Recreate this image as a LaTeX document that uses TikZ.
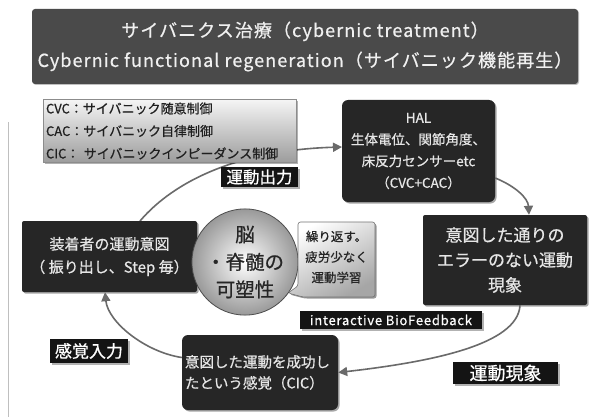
\documentclass[tikz,border=0pt]{standalone}
\usepackage{fontspec}
\setmainfont{Noto Sans CJK JP}[FakeBold=0.6]
\newfontfamily\widefont{Noto Sans CJK JP}[LetterSpace=6,FakeBold=0.6]
\usetikzlibrary{arrows.meta,shadows}
\definecolor{titlegray}{HTML}{4A4A4A}
\definecolor{boxdark}{HTML}{262626}
\definecolor{boxtext}{HTML}{E6E6E6}
\definecolor{arrowgray}{HTML}{6A6A6A}
\definecolor{legendbot}{HTML}{9C9C9C}
\begin{document}
\begin{tikzpicture}[x=1pt,y=-1pt,
  darkbox/.style={fill=boxdark, text=boxtext, inner sep=0pt, align=center,
    drop shadow={shadow xshift=1.5pt, shadow yshift=-1.5pt, opacity=.35, fill=black}},
  tagbox/.style={fill=black!92, text=white, inner sep=0pt,
    drop shadow={shadow xshift=1.5pt, shadow yshift=-1.5pt, opacity=.3, fill=black}},
  flow/.style={draw=arrowgray, line width=1.6pt, -{Triangle[length=9pt,width=9pt]}},
]
\useasboundingbox (0,0) rectangle (607,417);
\fill[white] (0,0) rectangle (607,417);
% page edge line
\coordinate (edgetop) at (8,122);
\coordinate (edgebot) at (8,417);
\draw[black!25, line width=1pt] (edgetop) -- (edgebot);

% title
\node[fill=titlegray, text=white!94!black, rounded corners=3pt, minimum width=546pt, minimum height=75pt,
  align=center, font={\widefont\fontsize{18}{30}\selectfont},
  drop shadow={shadow xshift=1pt, shadow yshift=-1pt, opacity=.25, fill=black}]
  (title) at (305,46.5) {サイバニクス治療（cybernic treatment）\\Cybernic functional regeneration（サイバニック機能再生）};

% arrow 1 (drawn under legend)
\draw[flow] ([xshift=30.5pt]109.5,221) coordinate (a1s) .. controls (175,180) and (240,150) .. (342,147) coordinate (a1e);

% legend
\node[draw=black!45, top color=white!96!black, bottom color=legendbot, minimum width=253pt, minimum height=62pt,
  text width=247pt, inner sep=3pt, align=left, text=black!88, font={\fontsize{13}{22.5}\selectfont},
  drop shadow={shadow xshift=1.5pt, shadow yshift=-1.5pt, opacity=.3, fill=black}]
  (legend) at (169.5,131) {CVC：サイバニック随意制御\\CAC：サイバニック自律制御\\CIC：\ サイバニックインピーダンス制御};

% HAL box
\node[darkbox, rounded corners=6pt, minimum width=153pt, minimum height=102pt, font={\fontsize{13.5}{21.7}\selectfont}]
  (hal) at (418.5,151) {HAL\\生体電位、関節角度、\\床反力センサーetc\\（CVC+CAC）};

% left box
\node[darkbox, rounded corners=2pt, minimum width=175pt, minimum height=71pt, font={\fontsize{15}{23}\selectfont}]
  (lbox) at (109.5,256.5) {装着者の運動意図\\（ 振り出し、Step 毎）};

% right box
\node[darkbox, rounded corners=2pt, minimum width=164pt, minimum height=90pt, font={\fontsize{17}{25}\selectfont}]
  (rbox) at (505,260) {意図した通りの\\エラーのない運動\\現象};

% bottom box
\node[darkbox, rounded corners=6pt, minimum width=156pt, minimum height=75pt, text width=150pt, align=left,
  font={\fontsize{14.5}{21}\selectfont}]
  (bbox) at (260,372.5) {意図した運動を成功し\\たという感覚（CIC）};

% circle
\node[circle, draw=black!70, line width=0.8pt, inner color=white, outer color=black!40, minimum size=96pt,
  inner sep=0pt, align=center, text=black!85, font={\fontsize{19.5}{27.5}\selectfont}]
  (brain) at (245,262) {脳\\・脊髄の\\可塑性};

% speech bubble
\shade[top color=white, bottom color=black!35, shading angle=30, draw=black!55, line width=0.6pt, rounded corners=2.5pt,
  drop shadow={shadow xshift=1.5pt, shadow yshift=-1.5pt, opacity=.4, fill=black}]
  (298,222) -- (375,222) -- (375,297) -- (303,297) -- (288,293) -- (298,286) -- cycle;
\node[align=center, text=black!85, font={\fontsize{12.5}{20.5}\selectfont}, inner sep=0pt]
  (bubble) at (336.5,257) {繰り返す。\\疲労少なく\\運動学習};

% labels
\node[tagbox, minimum width=77pt, minimum height=20pt, font={\fontsize{16.5}{18}\selectfont}]
  (out) at (259.5,177) {運動出力};
\node[tagbox, minimum width=78pt, minimum height=24pt, font={\fontsize{17}{18}\selectfont}]
  (sense) at (89,351) {感覚入力};
\node[tagbox, minimum width=105pt, minimum height=22pt, font={\fontsize{18}{18}\selectfont}]
  (phen) at (505.5,373) {運動現象};
\node[tagbox, minimum width=182pt, minimum height=18pt, font={\widefont\fontsize{13}{14}\selectfont}]
  (bio) at (391,320) {interactive BioFeedback};

% arrows
\draw[flow] ([yshift=-27pt]hal.east) .. controls (515,186) and (528,198) .. ([xshift=24pt]rbox.north);
\draw[flow] ([xshift=15pt]rbox.south) .. controls (518,345) and (430,362) .. (bbox.east);
\draw[flow] ([yshift=15pt]bbox.west) .. controls (145,352) and (108,322) .. ([xshift=-4.5pt]lbox.south);
\end{tikzpicture}
\end{document}
